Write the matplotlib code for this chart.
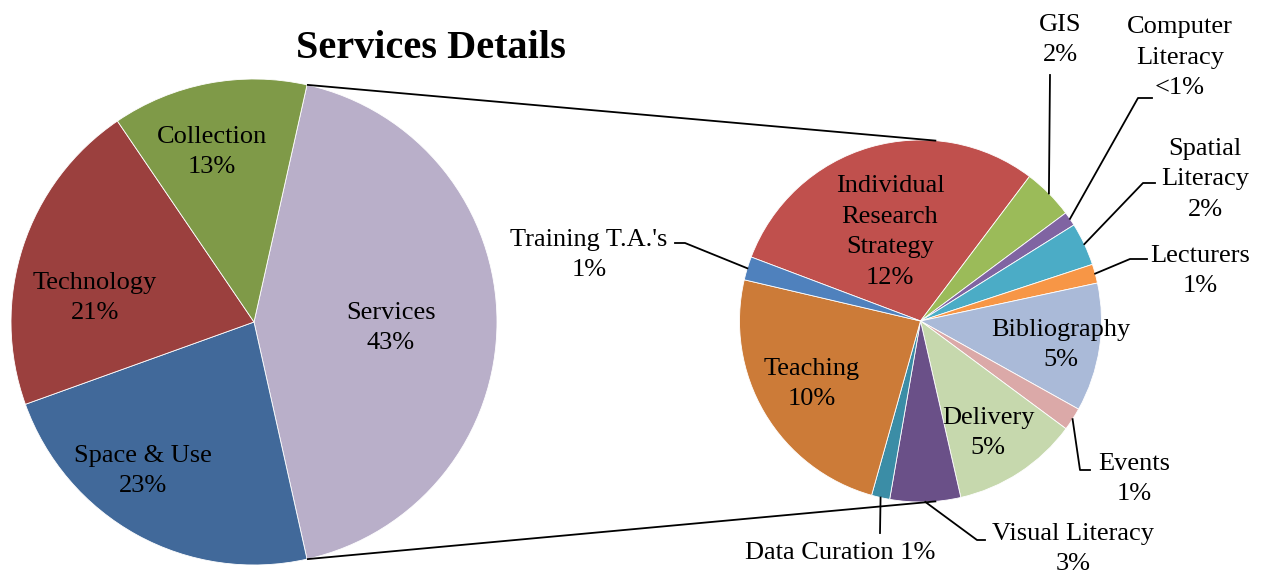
import matplotlib
matplotlib.use("Agg")
import matplotlib.pyplot as plt
import numpy as np

# ---- data ----
main_categories = ["Services", "Space & Use", "Technology", "Collection"]
main_values = [43, 23, 21, 13]
main_labels = ["Services\n43%", "Space & Use\n23%", "Technology\n21%", "Collection\n13%"]
main_colors = ["#B9AFC9", "#41699A", "#9B403E", "#7F9A48"]

sub_categories = ["Individual Research Strategy", "GIS", "Computer Literacy", "Spatial Literacy",
                  "Lecturers", "Bibliography", "Events", "Delivery", "Visual Literacy",
                  "Data Curation", "Teaching", "Training T.A.'s"]
sub_values = [12.7, 1.95, 0.55, 1.65, 0.73, 4.93, 0.88, 4.85, 2.71, 0.70, 10.45, 0.90]
sub_labels = ["Individual\nResearch\nStrategy\n12%", "GIS\n2%", "Computer\nLiteracy\n<1%",
              "Spatial\nLiteracy\n2%", "Lecturers\n1%", "Bibliography\n5%", "Events\n1%",
              "Delivery\n5%", "Visual Literacy\n3%", "Data Curation 1%", "Teaching\n10%",
              "Training T.A.'s\n1%"]
sub_colors = ["#C0504D", "#9BBB59", "#8064A2", "#4BACC6", "#F79646", "#AABAD8", "#DBA9A8",
              "#C6D8AD", "#6A5088", "#3B8DA6", "#CC7B38", "#4F81BD"]

title = "Services Details"

W, H = 1272, 576
fig = plt.figure(figsize=(W / 100, H / 100), dpi=100)
ax = fig.add_axes([0, 0, 1, 1])

FONT = "Liberation Serif"
FS = 19
LS = 1.5
TY = 2  # small vertical nudge for label text


def Y(y):
    return H - y


# left pie
lc = (254, Y(322))
lr = 243
start_main = main_values[0] / sum(main_values) * 360 / 2
ax.pie(main_values, colors=main_colors, startangle=start_main, counterclock=False,
       center=lc, radius=lr, frame=False,
       wedgeprops=dict(edgecolor="white", linewidth=0.6))

# right pie
rc = (920.5, Y(321))
rr = 181
start_sub = 159.3
ax.pie(sub_values, colors=sub_colors, startangle=start_sub, counterclock=False,
       center=rc, radius=rr, frame=False,
       wedgeprops=dict(edgecolor="white", linewidth=0.6))

ax.set_xlim(0, W)
ax.set_ylim(0, H)
ax.set_aspect("equal")
ax.axis("off")

# connector lines
for a_main, a_sub in [(start_main, 85), (-start_main, -85)]:
    p1 = (lc[0] + lr * np.cos(np.radians(a_main)), lc[1] + lr * np.sin(np.radians(a_main)))
    p2 = (rc[0] + rr * np.cos(np.radians(a_sub)), rc[1] + rr * np.sin(np.radians(a_sub)))
    ax.plot([p1[0], p2[0]], [p1[1], p2[1]], color="black", lw=1.3, solid_capstyle="butt")

# left pie labels (image coords)
main_pos = {"Services": (391, 326), "Space & Use": (143, 469),
            "Technology": (95, 296), "Collection": (212, 150)}
for cat, lab in zip(main_categories, main_labels):
    x, y = main_pos[cat]
    ax.text(x, Y(y + TY), lab, ha="center", va="center", fontsize=FS, family=FONT,
            linespacing=LS)

# mid angles for sub slices
total_sub = sum(sub_values)
mids = []
a = start_sub
for v in sub_values:
    span = v / total_sub * 360
    mids.append(a - span / 2)
    a -= span

inside_pos = {"Individual Research Strategy": (890, 230), "Teaching": (812, 382),
              "Bibliography": (1061, 343), "Delivery": (988, 431)}
# outside labels: text center, and leader path (elbow, end) in image coords
outside = {
    "GIS": ((1060, 38), [(1050, 75)]),
    "Computer Literacy": ((1180, 56), [(1138, 98), (1152, 98)]),
    "Spatial Literacy": ((1205, 177), [(1143, 183), (1155, 183)]),
    "Lecturers": ((1200, 269), [(1130, 259), (1147, 259)]),
    "Events": ((1134, 477), [(1080, 470), (1090, 470)]),
    "Visual Literacy": ((1073, 547), [(977, 540), (985, 540)]),
    "Data Curation": ((840, 551), [(880, 533)]),
    "Training T.A.'s": ((589, 253), [(685, 243), (675, 243)]),
}

for cat, lab, m in zip(sub_categories, sub_labels, mids):
    if cat in inside_pos:
        x, y = inside_pos[cat]
        ax.text(x, Y(y + TY), lab, ha="center", va="center", fontsize=FS, family=FONT,
                linespacing=LS)
    else:
        (tx, ty), path = outside[cat]
        ax.text(tx, Y(ty + TY), lab, ha="center", va="center", fontsize=FS, family=FONT,
                linespacing=LS)
        px = rc[0] + rr * np.cos(np.radians(m))
        py = rc[1] + rr * np.sin(np.radians(m))
        xs = [px] + [p[0] for p in path]
        ys = [py] + [Y(p[1]) for p in path]
        ax.plot(xs, ys, color="black", lw=1.3)

ax.text(431, Y(49), title, ha="center", va="center", fontsize=29, family=FONT,
        fontweight="bold")

fig.savefig("out.png", dpi=100, facecolor="white")
